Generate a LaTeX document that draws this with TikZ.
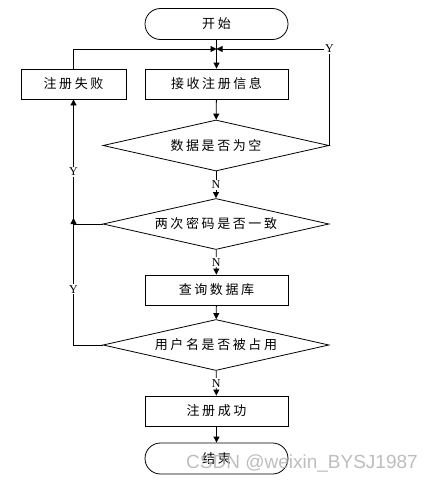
\documentclass[tikz,border=0pt]{standalone}
\usepackage{fontspec}
\setmainfont{Liberation Serif}
\newfontfamily\cjk[LetterSpace=20]{Noto Sans CJK SC}
\newfontfamily\wmfont{Liberation Sans}
\usetikzlibrary{shapes.geometric,arrows.meta}

\tikzset{
  box/.style={draw,line width=0.8pt,minimum width=143pt,minimum height=30pt,inner sep=0pt,font=\cjk\fontsize{13}{13}\selectfont},
  term/.style={box,rounded corners=15.5pt,minimum height=31pt},
  cond/.style={draw,diamond,aspect=4.4,line width=0.8pt,minimum width=226pt,minimum height=51pt,inner sep=0pt,font=\cjk\fontsize{13}{13}\selectfont},
  arr/.style={line width=0.8pt,-{Triangle[length=6pt,width=6pt]}},
  lbl/.style={fill=white,inner sep=1pt,font=\fontsize{12}{12}\selectfont}
}

\begin{document}
\begin{tikzpicture}[x=1pt,y=-1pt]
    \useasboundingbox (0,0) rectangle (430,482);
    % steps
    \node[term] (start) at (216.5,24) {开始};
    \node[box] (recv) at (216.5,84) {接收注册信息};
    \node[box,minimum width=105pt] (fail) at (73.5,84) {注册失败};
    \node[cond] (empty) at (216,145.5) {数据是否为空};
    \node[cond] (same) at (216,224) {两次密码是否一致};
    \node[box] (query) at (216.5,290) {查询数据库};
    \node[cond] (used) at (216,345) {用户名是否被占用};
    \node[box] (ok) at (216.5,411) {注册成功};
    \node[term] (stop) at (216.5,458.5) {结束};
    \coordinate (join) at (216.5,49);
    \coordinate (merge) at (73.5,218);
    % connectors
    \draw[arr] (start) -- (recv);
    \draw[arr] (fail.north) |- (join);
    \draw[arr] (empty.east) |- node[lbl,pos=0.5] {Y} (join);
    \draw[arr] (recv) -- (empty);
    \draw[arr] (empty) -- node[lbl] {N} (same);
    \draw[arr] (same.west) -| node[lbl,pos=0.71] {Y} (fail.south);
    \draw[arr] (same) -- node[lbl] {N} (query);
    \draw[arr] (query) -- (used);
    \draw[arr] (used.west) -| node[lbl,pos=0.72] {Y} (merge);
    \draw[arr] (used) -- node[lbl] {N} (ok);
    \draw[arr] (ok) -- (stop);
    % watermark
    \node[text=black!30,opacity=0.85,font=\wmfont\fontsize{19}{19}\selectfont] (mark) at (302,463) {CSDN @weixin\_BYSJ1987};
\end{tikzpicture}
\end{document}
